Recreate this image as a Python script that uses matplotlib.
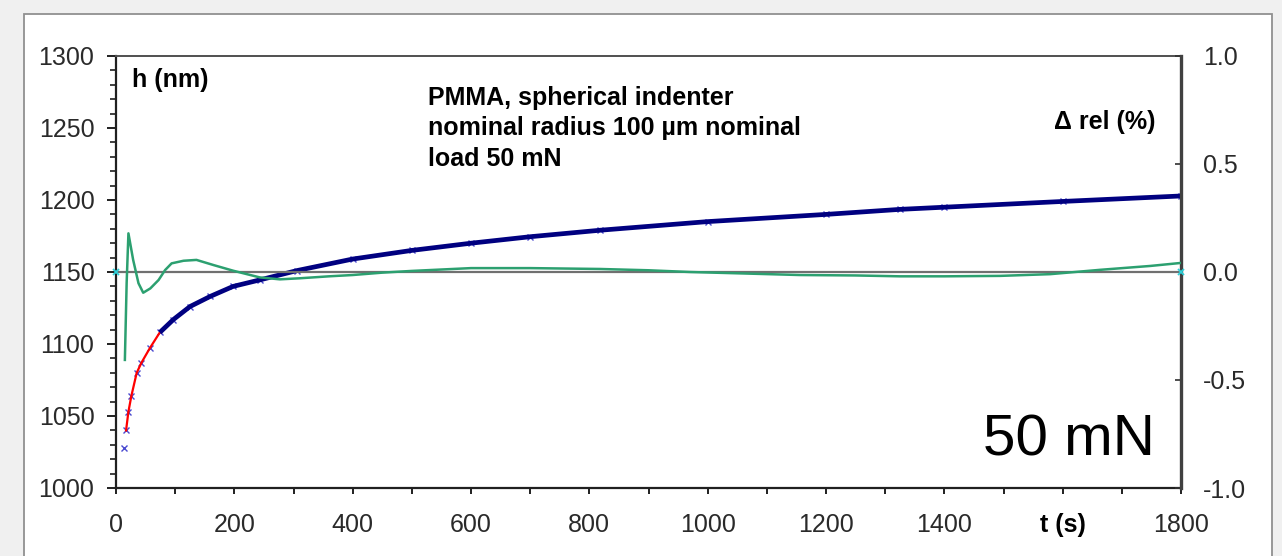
import matplotlib
matplotlib.use('Agg')
import matplotlib.pyplot as plt
from matplotlib.patches import Rectangle
from matplotlib.ticker import MultipleLocator

plt.rcParams['font.family'] = ['Liberation Sans', 'DejaVu Sans']

# indentation depth h(t), measured points and fit
t_h = [14, 17, 21, 26, 35, 43, 57, 74, 97, 125, 159, 198, 243, 306, 400, 500,
       600, 700, 818, 1000, 1200, 1325, 1400, 1600, 1800]
h_meas = [1028, 1040, 1053, 1064, 1080, 1087, 1097, 1108, 1117, 1126, 1133,
          1140, 1144.5, 1151, 1159, 1165, 1170, 1174.5, 1179, 1185, 1190,
          1193.5, 1195, 1199, 1202.8]
t_fit = t_h[1:]
h_fit = h_meas[1:]

# relative deviation (%)
t_d = [15, 18, 21, 29, 38, 46, 58, 72, 83, 94, 114, 136, 165, 198, 243, 277,
       311, 360, 400, 450, 500, 600, 700, 818, 900, 970, 1050, 1156, 1250,
       1325, 1400, 1494, 1579, 1663, 1748, 1800]
d_rel = [-0.407, -0.05, 0.179, 0.056, -0.052, -0.096, -0.076, -0.037, 0.009,
         0.040, 0.052, 0.056, 0.032, 0.006, -0.025, -0.034, -0.029, -0.020,
         -0.014, -0.003, 0.005, 0.018, 0.018, 0.014, 0.008, 0.0, -0.006,
         -0.014, -0.016, -0.020, -0.020, -0.018, -0.010, 0.010, 0.028, 0.042]

zero_t = [0, 1800]
zero_d = [0, 0]

x_ticks = [0, 200, 400, 600, 800, 1000, 1200, 1400, 1600, 1800]
x_labels = ['0', '200', '400', '600', '800', '1000', '1200', '1400', 't (s)', '1800']

NAVY = '#000080'
GREEN = '#2ca070'
FS = 18

fig = plt.figure(figsize=(12.82, 5.56), dpi=100)
fig.patch.set_facecolor('#f0f0f0')
fig.patches.append(Rectangle((24 / 1282, -0.05), (1272 - 24) / 1282, 1.05 - 14 / 556,
                             transform=fig.transFigure, facecolor='white',
                             edgecolor='#909090', lw=1.3, zorder=-5))

ax = fig.add_axes([116 / 1282, 1 - 488 / 556, (1181 - 116) / 1282, (488 - 56) / 556])
ax.set_facecolor('none')
ax.set_xlim(0, 1800)
ax.set_ylim(1000, 1300)

# fit (red) under measured (navy)
ax.plot(t_h, h_meas, ls='none', marker='x', ms=4, mew=1, color='#4a4ad0', zorder=2)
ax.plot(t_fit, h_fit, color='red', lw=1.6, zorder=3)
i0 = 7
ax.plot(t_h[i0:], h_meas[i0:], color=NAVY, lw=3.4, solid_capstyle='butt', zorder=4)

ax2 = ax.twinx()
ax2.set_ylim(-1.0, 1.0)
ax2.plot(zero_t, zero_d, color='#707070', lw=1.6, zorder=2)
ax2.plot(zero_t, zero_d, ls='none', marker='x', ms=5, mew=1.3, color='#30d0d8',
         clip_on=False, zorder=3)
ax2.plot(t_d, d_rel, color=GREEN, lw=1.8, zorder=4)

# spines
for s in ['left', 'bottom']:
    ax.spines[s].set_linewidth(1.6)
    ax.spines[s].set_color('#202020')
ax.spines['top'].set_linewidth(1.4)
ax.spines['top'].set_color('#505050')
ax2.spines['right'].set_linewidth(2.4)
ax2.spines['right'].set_color('#404040')
for s in ['left', 'bottom', 'top']:
    ax2.spines[s].set_visible(False)

# ticks
ax.set_xticks(x_ticks)
ax.set_xticklabels(x_labels)
ax.xaxis.set_minor_locator(MultipleLocator(100))
ax.yaxis.set_major_locator(MultipleLocator(50))
ax.yaxis.set_minor_locator(MultipleLocator(10))
ax.tick_params(axis='x', which='both', direction='out', length=4, width=1.4,
               color='#202020', pad=14, labelsize=FS, labelcolor='#2a2a2a')
ax.tick_params(axis='y', which='major', direction='out', length=6.5, width=1.4,
               color='#202020', pad=9, labelsize=FS, labelcolor='#2a2a2a')
ax.tick_params(axis='y', which='minor', direction='out', length=4, width=1.2,
               color='#202020')
ax.tick_params(top=False, right=False, which='both')
for lab in ax.get_xticklabels():
    if lab.get_text() == 't (s)':
        lab.set_fontweight('bold')
        lab.set_color('black')

ax2.set_yticks([-1.0, -0.5, 0.0, 0.5, 1.0])
ax2.set_yticklabels(['-1.0', '-0.5', '0.0', '0.5', '1.0'])
ax2.tick_params(axis='y', direction='in', length=4, width=1.2, color='#303030',
                pad=16, labelsize=FS, labelcolor='#2a2a2a')

# annotations
ax.text(16 / 1065, 1 - 24 / 432, 'h (nm)', transform=ax.transAxes, fontsize=FS,
        fontweight='bold', va='center', ha='left')
ax.text(0.293, 1 - 30 / 432, 'PMMA, spherical indenter\nnominal radius 100 \u00b5m nominal\nload 50 mN',
        transform=ax.transAxes, fontsize=FS, fontweight='bold', va='top', ha='left',
        linespacing=1.33)
ax2.text(1 - 26 / 1065, (488 - 122) / 432, '\u0394 rel (%)', transform=ax2.transAxes,
         fontsize=FS, fontweight='bold', va='center', ha='right')
ax2.text(1 - 26 / 1065, (488 - 440) / 432, '50 mN', transform=ax2.transAxes,
         fontsize=42, va='center', ha='right')

fig.savefig('out.png', dpi=100, facecolor=fig.get_facecolor())
